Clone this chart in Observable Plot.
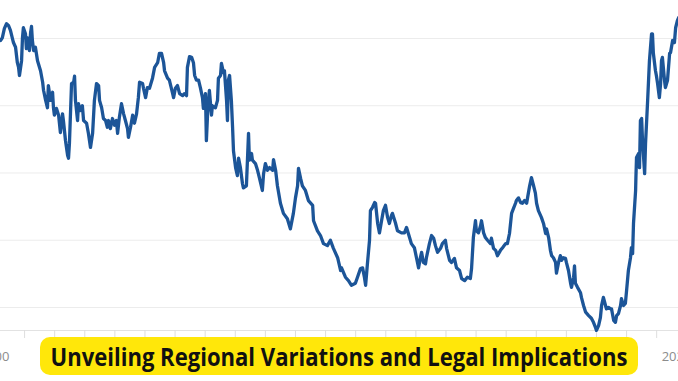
<!DOCTYPE html>
<html>
<head>
<meta charset="utf-8">
<script src="https://cdn.jsdelivr.net/npm/d3@7"></script>
<script src="https://cdn.jsdelivr.net/npm/@observablehq/plot@0.6"></script>
<style>
  html, body { margin: 0; padding: 0; background: #fff; overflow: hidden; }
  #wrap { position: relative; width: 678px; height: 381px; }
  #banner {
    position: absolute; left: 40px; top: 337px; width: 598px; height: 38px;
    background: #ffe70a; border-radius: 10px;
    display: flex; align-items: center; justify-content: center;
    overflow: hidden;
  }
  #banner span {
    font-family: "Open Sans", sans-serif; font-weight: 700; font-size: 25px;
    color: #111; white-space: nowrap; display: inline-block; line-height: 1;
    transform-origin: center center;
  }
</style>
</head>
<body>
<div id="wrap"><div id="banner"><span id="btext">Unveiling Regional Variations and Legal Implications</span></div></div>
<script>
// Weekly 30-year fixed mortgage rate (%)
const years = [2001.20,2001.26,2001.33,2001.40,2001.47,2001.53,2001.63,2001.70,2001.76,2001.80,2001.83,2001.90,2001.93,2001.96,2002.03,2002.06,2002.10,2002.16,2002.20,2002.23,2002.26,2002.30,2002.36,2002.43,2002.53,2002.60,2002.63,2002.70,2002.76,2002.79,2002.86,2002.93,2002.96,2002.99,2003.06,2003.13,2003.19,2003.26,2003.29,2003.36,2003.43,2003.46,2003.49,2003.56,2003.63,2003.66,2003.69,2003.76,2003.79,2003.86,2003.92,2003.96,2004.06,2004.12,2004.19,2004.26,2004.32,2004.39,2004.46,2004.49,2004.56,2004.62,2004.69,2004.75,2004.79,2004.85,2004.92,2004.99,2005.05,2005.09,2005.15,2005.22,2005.29,2005.35,2005.42,2005.45,2005.52,2005.59,2005.65,2005.72,2005.78,2005.82,2005.92,2005.95,2006.02,2006.08,2006.15,2006.25,2006.32,2006.42,2006.48,2006.55,2006.62,2006.65,2006.75,2006.81,2006.91,2006.95,2007.01,2007.08,2007.15,2007.25,2007.31,2007.38,2007.41,2007.48,2007.55,2007.61,2007.65,2007.71,2007.78,2007.84,2007.91,2007.94,2008.01,2008.04,2008.08,2008.14,2008.21,2008.24,2008.34,2008.41,2008.44,2008.51,2008.54,2008.61,2008.64,2008.71,2008.74,2008.77,2008.81,2008.87,2008.91,2008.94,2009.01,2009.07,2009.11,2009.17,2009.24,2009.27,2009.37,2009.44,2009.47,2009.54,2009.57,2009.67,2009.74,2009.80,2009.90,2009.94,2010.00,2010.07,2010.14,2010.24,2010.27,2010.34,2010.40,2010.50,2010.60,2010.73,2010.83,2010.93,2011.00,2011.07,2011.10,2011.17,2011.23,2011.33,2011.43,2011.57,2011.60,2011.73,2011.83,2011.93,2012.06,2012.16,2012.26,2012.40,2012.50,2012.53,2012.66,2012.76,2012.86,2012.99,2013.06,2013.16,2013.23,2013.29,2013.33,2013.39,2013.46,2013.49,2013.56,2013.63,2013.66,2013.73,2013.79,2013.86,2013.92,2013.99,2014.06,2014.12,2014.19,2014.22,2014.32,2014.39,2014.52,2014.62,2014.69,2014.79,2014.85,2014.95,2015.02,2015.09,2015.15,2015.19,2015.25,2015.32,2015.35,2015.45,2015.52,2015.59,2015.65,2015.72,2015.82,2015.88,2015.98,2016.02,2016.12,2016.18,2016.28,2016.35,2016.45,2016.52,2016.62,2016.71,2016.81,2016.85,2016.91,2016.98,2017.01,2017.08,2017.15,2017.18,2017.25,2017.31,2017.38,2017.48,2017.51,2017.58,2017.65,2017.71,2017.81,2017.88,2017.98,2018.04,2018.11,2018.18,2018.24,2018.31,2018.34,2018.41,2018.48,2018.54,2018.61,2018.68,2018.71,2018.78,2018.84,2018.91,2018.97,2019.01,2019.07,2019.17,2019.24,2019.31,2019.34,2019.41,2019.47,2019.51,2019.57,2019.64,2019.67,2019.74,2019.80,2019.84,2019.90,2019.97,2020.00,2020.07,2020.14,2020.17,2020.24,2020.27,2020.30,2020.37,2020.47,2020.50,2020.57,2020.64,2020.74,2020.83,2020.90,2020.97,2021.00,2021.07,2021.13,2021.17,2021.23,2021.30,2021.33,2021.40,2021.47,2021.50,2021.57,2021.63,2021.67,2021.73,2021.80,2021.83,2021.90,2021.96,2022.00,2022.06,2022.13,2022.16,2022.20,2022.23,2022.30,2022.31,2022.33,2022.40,2022.43,2022.46,2022.50,2022.53,2022.60,2022.63,2022.70,2022.76,2022.83,2022.86,2022.89,2022.96,2022.99,2023.03,2023.09,2023.13,2023.16,2023.19,2023.26,2023.29,2023.36,2023.43,2023.46,2023.53,2023.59,2023.63,2023.69,2023.73];
const rates = [6.97,7.01,7.15,7.22,7.19,7.12,6.94,6.87,6.64,6.57,6.45,6.67,7.01,7.16,7.07,6.85,7.01,6.82,7.09,7.18,6.97,6.82,6.87,6.67,6.52,6.35,6.23,6.08,5.97,6.30,6.08,6.20,5.97,5.86,5.96,5.86,5.60,5.88,5.78,5.48,5.26,5.22,5.44,6.33,6.35,6.44,6.08,5.78,6.03,5.93,6.00,5.78,5.74,5.59,5.38,5.59,6.08,6.33,6.30,6.08,5.97,5.81,5.78,5.68,5.78,5.66,5.81,5.71,5.78,5.59,5.83,6.03,5.88,5.78,5.66,5.53,5.68,5.86,5.74,5.88,6.12,6.35,6.33,6.26,6.12,6.27,6.26,6.41,6.57,6.64,6.78,6.78,6.64,6.52,6.41,6.38,6.20,6.12,6.26,6.30,6.18,6.15,6.18,6.15,6.57,6.73,6.72,6.64,6.45,6.38,6.38,6.27,6.12,5.96,6.18,5.48,5.88,6.23,5.86,6.00,5.97,6.08,6.41,6.45,6.63,6.49,6.52,6.08,5.78,6.38,6.45,6.08,5.68,5.33,5.08,4.96,5.22,5.08,4.84,4.78,4.81,5.59,5.19,5.29,5.19,5.14,5.04,4.93,4.74,4.99,5.14,5.04,5.08,5.04,5.20,5.04,4.81,4.55,4.40,4.32,4.17,4.40,4.63,4.81,5.07,4.92,4.81,4.74,4.59,4.52,4.29,4.14,4.07,3.95,3.92,4.00,3.88,3.74,3.55,3.59,3.45,3.40,3.33,3.36,3.45,3.58,3.59,3.45,3.33,3.65,4.00,4.44,4.49,4.56,4.55,4.25,4.11,4.29,4.44,4.52,4.34,4.25,4.37,4.40,4.26,4.14,4.11,4.11,4.19,4.04,3.95,3.89,3.74,3.59,3.74,3.82,3.67,3.65,3.74,3.95,4.07,4.03,3.92,3.82,3.88,3.95,4.00,3.88,3.70,3.67,3.73,3.59,3.55,3.43,3.40,3.45,3.43,3.58,4.04,4.29,4.14,4.11,4.22,4.29,4.11,4.04,4.00,3.95,4.03,3.88,3.85,3.77,3.85,3.89,3.95,3.95,4.10,4.40,4.47,4.55,4.59,4.63,4.56,4.55,4.59,4.55,4.63,4.81,4.93,4.81,4.70,4.55,4.44,4.34,4.25,4.10,4.17,4.04,3.85,3.77,3.74,3.67,3.51,3.67,3.77,3.70,3.74,3.73,3.67,3.55,3.36,3.30,3.45,3.62,3.36,3.30,3.22,3.15,3.03,2.93,2.88,2.84,2.78,2.70,2.66,2.73,2.85,3.03,3.15,3.03,2.98,3.00,2.98,2.98,2.81,2.78,2.88,2.91,3.03,3.13,3.03,3.06,3.25,3.55,3.74,3.89,3.80,4.25,4.74,4.93,5.23,5.29,5.08,5.78,5.81,5.48,4.99,5.44,6.08,6.67,7.07,7.07,6.78,6.52,6.45,6.33,6.12,6.33,6.67,6.72,6.38,6.27,6.38,6.78,6.79,6.97,6.94,7.16,7.27,7.31];

const tickYears = [2001,2002,2003,2004,2005,2006,2007,2008,2009,2010,2011,2012,2013,2014,2015,2016,2017,2018,2019,2020,2021,2022,2023];
const gridValues = [3, 4, 5, 6, 7];
const leftLabelTick = [2001];
const leftLabelText = ["2000"];
const rightLabelTick = [2023];
const rightLabelText = ["2020"];
const xDomain = [2001.2, 2023.725];
const yDomain = [2.658, 7.565];

const data = years.map((t, i) => ({t, r: rates[i]}));

const chart = Plot.plot({
  width: 678,
  height: 381,
  marginLeft: 0,
  marginRight: 0,
  marginTop: 0,
  marginBottom: 51,
  x: {domain: xDomain, axis: null, label: null},
  y: {domain: yDomain, axis: null, label: null},
  style: {fontFamily: "'Open Sans', sans-serif", background: "#fff"},
  marks: [
    Plot.gridY(gridValues, {stroke: "#ececec", strokeOpacity: 1, strokeWidth: 1}),
    Plot.ruleY([yDomain[0]], {stroke: "#e2e2e2", strokeWidth: 1}),
    Plot.axisX(tickYears, {tickSize: 8, stroke: "#dedede", strokeOpacity: 1, label: null, tickFormat: () => ""}),
    Plot.axisX(leftLabelTick, {tickSize: 0, tickPadding: 21, fontSize: 13, fill: "#8c8c8c", label: null,
      tickFormat: (d, i) => leftLabelText[i]}),
    Plot.axisX(rightLabelTick, {tickSize: 0, tickPadding: 21, fontSize: 13, fill: "#8c8c8c", label: null,
      textAnchor: "start", dx: 5, tickFormat: (d, i) => rightLabelText[i]}),
    Plot.line(data, {x: "t", y: "r", stroke: "#1c5598", strokeWidth: 3.3, strokeLinejoin: "round", strokeLinecap: "round"})
  ]
});
const wrap = document.getElementById("wrap");
chart.style.position = "absolute";
chart.style.left = "0px";
chart.style.top = "0px";
wrap.insertBefore(chart, wrap.firstChild);

// fit banner text width to the reference (~577px)
const bt = document.getElementById("btext");
const w = bt.getBoundingClientRect().width;
if (w > 0) bt.style.transform = `scaleX(${577 / w})`;
</script>
</body>
</html>
